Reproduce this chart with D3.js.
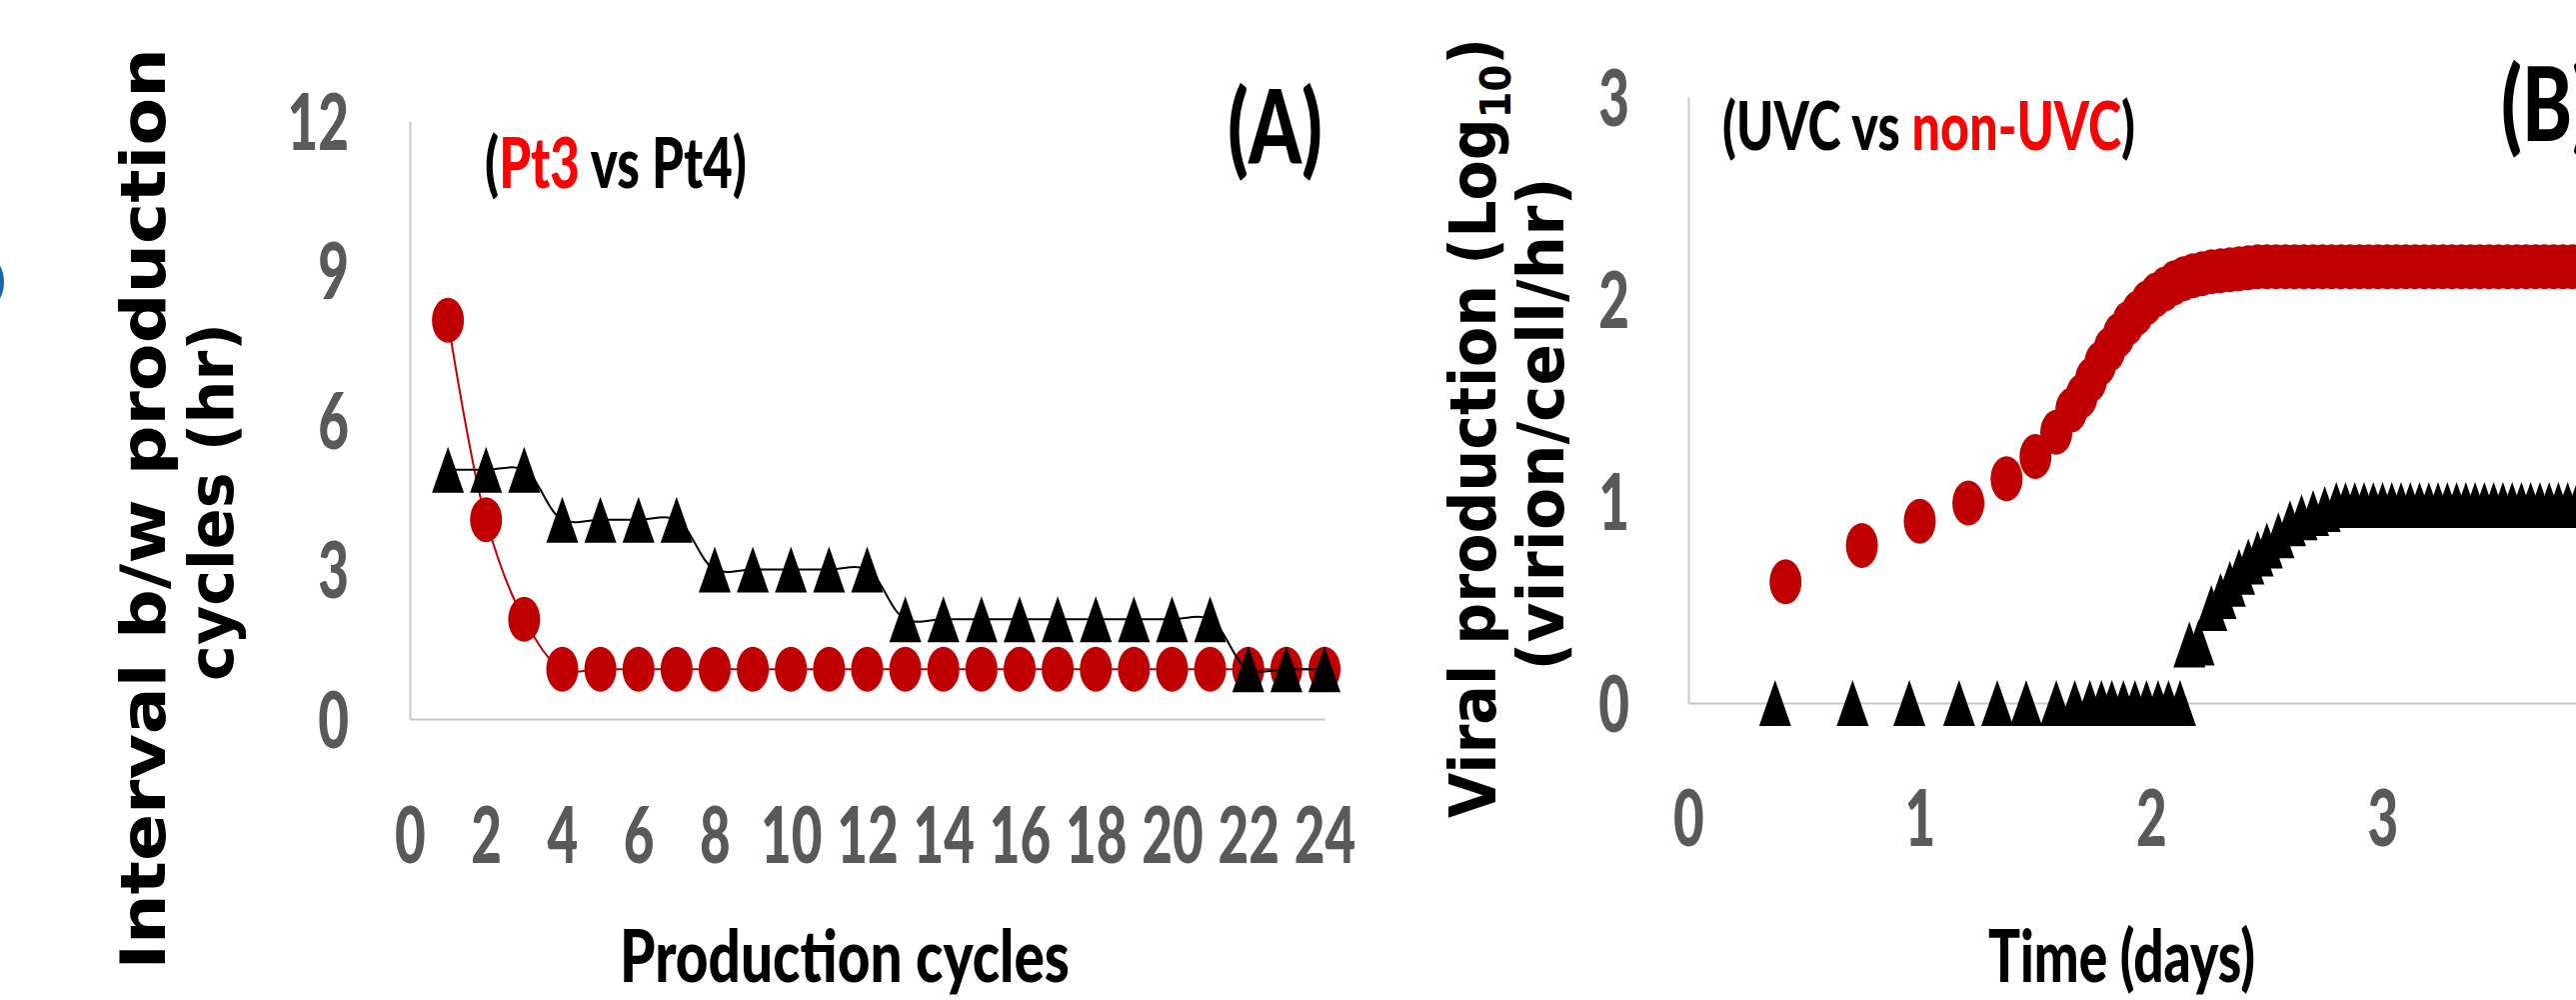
<!DOCTYPE html>
<html>
<head>
<meta charset="utf-8">
<script src="https://cdn.jsdelivr.net/npm/d3@7"></script>
<style>
  html, body { margin: 0; padding: 0; background: #fff; overflow: hidden; }
  svg { display: block; }
</style>
</head>
<body>
<div id="chart"></div>
<script>
// ---- panel A : interval between production cycles ----
var cycles = [1, 2, 3, 4, 5, 6, 7, 8, 9, 10, 11, 12, 13, 14, 15, 16, 17, 18, 19, 20, 21, 22, 23, 24];
var pt3Interval = [8, 4, 2, 1, 1, 1, 1, 1, 1, 1, 1, 1, 1, 1, 1, 1, 1, 1, 1, 1, 1, 1, 1, 1];
var pt4Interval = [5, 5, 5, 4, 4, 4, 4, 3, 3, 3, 3, 3, 2, 2, 2, 2, 2, 2, 2, 2, 2, 1, 1, 1];
var cycleTicks = [0, 2, 4, 6, 8, 10, 12, 14, 16, 18, 20, 22, 24];
var intervalTicks = [0, 3, 6, 9, 12];

// ---- panel B : viral production over time ----
var nonUvcDays = [0.42, 0.75, 1.00, 1.21, 1.375, 1.50, 1.59, 1.655,
  1.70, 1.74, 1.78, 1.82, 1.86, 1.90, 1.94, 1.98, 2.02, 2.06, 2.10, 2.14, 2.18, 2.22, 2.26, 2.30, 2.34, 2.38, 2.42,
  2.46, 2.50, 2.54, 2.58, 2.62, 2.66, 2.70, 2.74, 2.78, 2.82, 2.86, 2.90, 2.94, 2.98, 3.02, 3.06, 3.10, 3.14,
  3.18, 3.22, 3.26, 3.30, 3.34, 3.38, 3.42, 3.46, 3.50, 3.54, 3.58, 3.62, 3.66, 3.70, 3.74, 3.78, 3.82, 3.86, 3.90];
var nonUvcLog = [0.60, 0.78, 0.90, 0.99, 1.11, 1.22, 1.34, 1.45,
  1.52, 1.60, 1.68, 1.75, 1.82, 1.88, 1.93, 1.98, 2.02, 2.05, 2.08, 2.10, 2.115, 2.125, 2.135, 2.14, 2.145, 2.15, 2.155,
  2.16, 2.16, 2.16, 2.16, 2.16, 2.16, 2.16, 2.16, 2.16, 2.16, 2.16, 2.16, 2.16, 2.16, 2.16, 2.16, 2.16, 2.16,
  2.16, 2.16, 2.16, 2.16, 2.16, 2.16, 2.16, 2.16, 2.16, 2.16, 2.16, 2.16, 2.16, 2.16, 2.16, 2.16, 2.16, 2.16, 2.16];
var uvcDays = [0.375, 0.71, 0.955, 1.17, 1.335, 1.46, 1.59, 1.67, 1.735, 1.785, 1.83, 1.88, 1.93, 1.98, 2.03, 2.075, 2.125,
  2.165, 2.205, 2.26, 2.30, 2.34, 2.38, 2.42, 2.46, 2.50, 2.55, 2.60, 2.65, 2.70, 2.75,
  2.80, 2.84, 2.88, 2.92, 2.96, 3.00, 3.04, 3.08, 3.12, 3.16, 3.20, 3.24, 3.28, 3.32, 3.36, 3.40, 3.44, 3.48,
  3.52, 3.56, 3.60, 3.64, 3.68, 3.72, 3.76, 3.80, 3.84, 3.88, 3.92];
var uvcLog = [0, 0, 0, 0, 0, 0, 0, 0, 0, 0, 0, 0, 0, 0, 0, 0, 0,
  0.29, 0.30, 0.47, 0.53, 0.59, 0.65, 0.70, 0.74, 0.78, 0.83, 0.89, 0.92, 0.94, 0.96,
  0.98, 0.98, 0.98, 0.98, 0.98, 0.98, 0.98, 0.98, 0.98, 0.98, 0.98, 0.98, 0.98, 0.98, 0.98, 0.98, 0.98, 0.98,
  0.98, 0.98, 0.98, 0.98, 0.98, 0.98, 0.98, 0.98, 0.98, 0.98, 0.98];
var dayTicks = [0, 1, 2, 3];
var logTicks = [0, 1, 2, 3];

var RED = "#c00000", BRIGHT = "#ff0000", GREY = "#595959";
var tickFont = "Lato, 'Open Sans', sans-serif";
var titleFont = "'DejaVu Sans', Verdana, sans-serif";
var squash = 0.68; // the figure is narrowed horizontally

var svg = d3.select("#chart").append("svg")
    .attr("width", 2577)
    .attr("height", 1000);

// remnant of a neighbouring panel at the left edge
svg.append("ellipse")
    .attr("cx", -8).attr("cy", 282)
    .attr("rx", 12).attr("ry", 22)
    .attr("fill", "#1b66ab");

function styleAxis(g, bottom, shift) {
  g.attr("font-family", null).attr("font-size", null);
  g.select(".domain").attr("stroke", "#c8c8c8").attr("stroke-width", 2);
  g.selectAll(".tick line").remove();
  g.selectAll(".tick text")
      .attr("fill", GREY)
      .style("font-family", tickFont)
      .style("font-weight", 900)
      .style("font-size", "78px")
      .attr("x", 0).attr("y", 0).attr("dy", null)
      .attr("transform", bottom
        ? "translate(0," + shift + ") scale(" + squash + ",1)"
        : "translate(" + shift + ",28) scale(" + squash + ",1)");
}

// horizontal text squeezed to a measured width
function fitText(t, x, y, width) {
  var w = t.node().getBBox().width;
  var k = width / w;
  t.attr("transform", "translate(" + x + "," + y + ") scale(" + k + ",1)");
  return k;
}

// rotated axis title fitted to a measured length
function fitVertical(t, x, cy, length) {
  var w = t.node().getBBox().width;
  t.attr("text-anchor", "middle")
    .attr("transform", "translate(" + x + "," + cy + ") rotate(-90) scale(" + (length / w) + ",1)");
}

function addTriangles(g, xs, ys, x, y) {
  g.selectAll(null)
      .data(xs)
    .enter().append("path")
      .attr("d", "M0,-23L16,23L-16,23Z")
      .attr("fill", "#000")
      .attr("transform", function(d, i) { return "translate(" + x(d) + "," + y(ys[i]) + ")"; });
}

function addDots(g, xs, ys, x, y) {
  g.selectAll(null)
      .data(xs)
    .enter().append("ellipse")
      .attr("cx", function(d) { return x(d); })
      .attr("cy", function(d, i) { return y(ys[i]); })
      .attr("rx", 16)
      .attr("ry", 22.5)
      .attr("fill", RED);
}

function label(size) {
  return svg.append("text")
      .style("font-family", tickFont)
      .style("font-weight", 900)
      .style("font-size", size + "px")
      .attr("fill", "#000");
}

// ================= panel A =================
var xA = d3.scaleLinear().domain([0, 24]).range([410, 1325]);
var yA = d3.scaleLinear().domain([0, 12]).range([719, 121]);

svg.append("g")
    .attr("transform", "translate(0," + yA(0) + ")")
    .call(d3.axisBottom(xA).tickValues(cycleTicks).tickSizeOuter(0))
    .call(styleAxis, true, 144);

svg.append("g")
    .attr("transform", "translate(" + xA(0) + ",0)")
    .call(d3.axisLeft(yA).tickValues(intervalTicks).tickSizeOuter(0))
    .call(styleAxis, false, -61);

var lineA = d3.line()
    .x(function(d) { return xA(d[0]); })
    .y(function(d) { return yA(d[1]); })
    .curve(d3.curveCatmullRom.alpha(0.5));

var gA = svg.append("g");
gA.append("path")
    .attr("d", lineA(d3.zip(cycles, pt3Interval)))
    .attr("fill", "none").attr("stroke", RED).attr("stroke-width", 2);
addDots(gA, cycles, pt3Interval, xA, yA);
gA.append("path")
    .attr("d", lineA(d3.zip(cycles, pt4Interval)))
    .attr("fill", "none").attr("stroke", "#000").attr("stroke-width", 2);
addTriangles(gA, cycles, pt4Interval, xA, yA);

var legA = label(70);
legA.append("tspan").text("(");
legA.append("tspan").attr("fill", BRIGHT).text("Pt3");
legA.append("tspan").text(" vs Pt4)");
fitText(legA, 485, 188, 262);

var tagA = label(103).text("(A)");
var kTag = fitText(tagA, 1228, 164, 95);

var xTitleA = label(72).text("Production cycles");
fitText(xTitleA, 620, 982, 450);

var yT1 = svg.append("text")
    .style("font-family", titleFont).style("font-weight", 700).style("font-size", "62px")
    .text("Interval b/w production");
fitVertical(yT1, 165, 509, 922);
var yT2 = svg.append("text")
    .style("font-family", titleFont).style("font-weight", 700).style("font-size", "62px")
    .text("cycles (hr)");
fitVertical(yT2, 233, 502, 358);

// ================= panel B =================
var xB = d3.scaleLinear().domain([0, 5]).range([1689, 2846.5]);
var yB = d3.scaleLinear().domain([0, 3]).range([703, 97]);

svg.append("g")
    .attr("transform", "translate(0," + yB(0) + ")")
    .call(d3.axisBottom(xB).tickValues(dayTicks).tickFormat(d3.format("d")).tickSizeOuter(0))
    .call(styleAxis, true, 143);

svg.append("g")
    .attr("transform", "translate(" + xB(0) + ",0)")
    .call(d3.axisLeft(yB).tickValues(logTicks).tickFormat(d3.format("d")).tickSizeOuter(0))
    .call(styleAxis, false, -59);

var gB = svg.append("g");
addDots(gB, nonUvcDays, nonUvcLog, xB, yB);
addTriangles(gB, uvcDays, uvcLog, xB, yB);

var legB = label(67);
legB.append("tspan").text("(UVC vs ");
legB.append("tspan").attr("fill", BRIGHT).text("non-UVC");
legB.append("tspan").text(")");
fitText(legB, 1723, 150, 413);

label(103)
    .attr("transform", "translate(2502,141) scale(" + kTag + ",1)")
    .text("(B)");

var xTitleB = label(72).text("Time (days)");
fitText(xTitleB, 1989, 982, 267);

var yB1 = svg.append("text")
    .style("font-family", titleFont).style("font-weight", 700).style("font-size", "64px");
yB1.append("tspan").text("Viral production (Log");
yB1.append("tspan").attr("dy", 15).style("font-size", "42px").text("10");
yB1.append("tspan").attr("dy", -15).text(")");
fitVertical(yB1, 1496, 428, 780);
var yB2 = svg.append("text")
    .style("font-family", titleFont).style("font-weight", 700).style("font-size", "64px")
    .text("(virion/cell/hr)");
fitVertical(yB2, 1564, 424, 493);
</script>
</body>
</html>
